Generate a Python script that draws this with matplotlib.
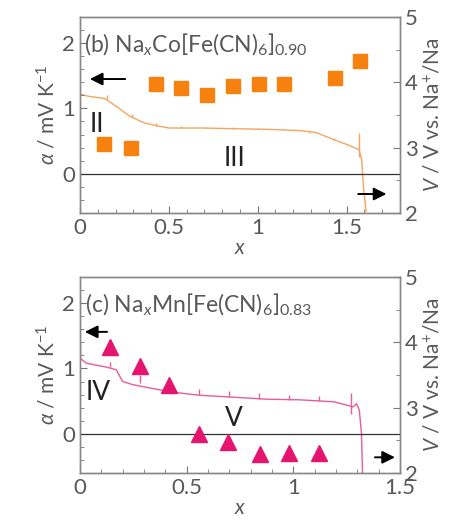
import numpy as np
import matplotlib
matplotlib.use("Agg")
from matplotlib import pyplot as plt
from matplotlib.ticker import MultipleLocator

plt.rcParams['font.family'] = ['Lato', 'DejaVu Sans']
plt.rcParams['mathtext.fontset'] = 'custom'
plt.rcParams['mathtext.rm'] = 'Lato'
plt.rcParams['mathtext.it'] = 'Lato:italic'

gray = "#595959"

# (b) Na_xCo[Fe(CN)6]0.90 : thermal coefficient (squares)
co_x = [0.137, 0.285, 0.426, 0.568, 0.716, 0.862, 1.007, 1.150, 1.434, 1.578]
co_alpha = [0.45, 0.39, 1.37, 1.32, 1.20, 1.34, 1.38, 1.38, 1.47, 1.73]
# discharge curve
co_vx = [0.0, 0.04, 0.14, 0.20, 0.28, 0.36, 0.44, 0.50, 0.69, 0.86, 1.05, 1.24,
         1.33, 1.43, 1.50, 1.57, 1.585, 1.595, 1.61]
co_v = [3.82, 3.79, 3.75, 3.64, 3.48, 3.38, 3.33, 3.30, 3.30, 3.29, 3.28, 3.26,
        3.23, 3.12, 3.05, 2.97, 2.82, 2.40, 2.02]
# relaxation spikes (x, low, high)
co_sx = [0.15, 0.29, 0.43, 0.57, 0.71, 0.86, 1.00, 1.14, 1.29, 1.43, 1.57]
co_slo = [3.75, 3.47, 3.33, 3.30, 3.30, 3.29, 3.28, 3.27, 3.22, 3.12, 2.86]
co_shi = [3.81, 3.52, 3.37, 3.33, 3.32, 3.31, 3.30, 3.29, 3.24, 3.15, 3.22]

# (c) Na_xMn[Fe(CN)6]0.83 : thermal coefficient (triangles)
mn_x = [0.141, 0.281, 0.419, 0.559, 0.695, 0.844, 0.981, 1.122]
mn_alpha = [1.33, 1.03, 0.74, 0.0, -0.12, -0.31, -0.30, -0.30]
mn_vx = [0.0, 0.03, 0.125, 0.17, 0.20, 0.25, 0.33, 0.41, 0.48, 0.56, 0.72, 0.875,
         1.03, 1.19, 1.25, 1.28, 1.297, 1.31, 1.32, 1.325]
mn_v = [3.76, 3.68, 3.62, 3.58, 3.40, 3.35, 3.30, 3.25, 3.22, 3.19, 3.16, 3.13,
        3.12, 3.09, 3.04, 3.01, 3.06, 2.96, 2.60, 2.00]
mn_sx = [0.0, 0.14, 0.28, 0.42, 0.56, 0.70, 0.84, 0.98, 1.12, 1.27]
mn_slo = [3.76, 3.62, 3.38, 3.26, 3.20, 3.16, 3.14, 3.12, 3.10, 2.90]
mn_shi = [3.96, 3.70, 3.50, 3.35, 3.28, 3.25, 3.22, 3.20, 3.18, 3.22]

panels = [
    dict(title=r"(b) Na$_{\mathit{x}}$Co[Fe(CN)$_6$]$_{0.90}$", x=co_x, a=co_alpha, marker="s",
         mc="#F7810F", lc="#F5A560", vx=co_vx, v=co_v, sx=co_sx, slo=co_slo, shi=co_shi,
         xmax=1.8, labels=[("II", 0.094, 0.75), ("III", 0.87, 0.24)],
         larrow=(0.27, 0.04, 1.45), rarrow=(1.55, 1.74, -0.31)),
    dict(title=r"(c) Na$_{\mathit{x}}$Mn[Fe(CN)$_6$]$_{0.83}$", x=mn_x, a=mn_alpha, marker="^",
         mc="#E5156F", lc="#E65C9C", vx=mn_vx, v=mn_v, sx=mn_sx, slo=mn_slo, shi=mn_shi,
         xmax=1.5, labels=[("IV", 0.086, 0.63), ("V", 0.72, 0.23)],
         larrow=(0.14, 0.01, 1.56), rarrow=(1.37, 1.49, -0.36)),
]

fig = plt.figure(figsize=(4.57, 5.23), dpi=100)
bottoms = [0.5928, 0.0956]

for p, b in zip(panels, bottoms):
    ax = fig.add_axes([0.175, b, 0.700, 0.3748])
    ax2 = ax.twinx()
    ax.set_zorder(2)
    ax.patch.set_visible(False)

    ax2.plot(p["vx"], p["v"], color=p["lc"], lw=1.0)
    ax2.vlines(p["sx"], p["slo"], p["shi"], color=p["lc"], lw=1.0)
    ax.axhline(0, color="#333333", lw=0.9)
    ms = 10 if p["marker"] == "s" else 11
    ax.plot(p["x"], p["a"], linestyle="none", marker=p["marker"], color=p["mc"], ms=ms, mec=p["mc"])

    for t, tx, ty in p["labels"]:
        ax.text(tx, ty, t, fontsize=19, color="#222222", ha="center", va="center")
    ax.text(0.025, 1.97, p["title"], fontsize=16.5, color=gray, ha="left", va="center")

    x0, x1, y = p["larrow"]
    ax.annotate("", xy=(x1, y), xytext=(x0, y),
                arrowprops=dict(arrowstyle="-|>", color="black", lw=1.4, mutation_scale=19))
    x0, x1, y = p["rarrow"]
    ax.annotate("", xy=(x1, y), xytext=(x0, y),
                arrowprops=dict(arrowstyle="-|>", color="black", lw=1.4, mutation_scale=19))

    ax.set_xlim(0, p["xmax"])
    ax.set_ylim(-0.6, 2.4)
    ax2.set_ylim(2, 5)
    ax.xaxis.set_major_locator(MultipleLocator(0.5))
    ax.xaxis.set_minor_locator(MultipleLocator(0.1))
    ax.yaxis.set_major_locator(MultipleLocator(1))
    ax.yaxis.set_minor_locator(MultipleLocator(0.2))
    ax2.yaxis.set_major_locator(MultipleLocator(1))
    ax2.yaxis.set_minor_locator(MultipleLocator(0.5))
    ax.set_xticks([0, 0.5, 1, 1.5])
    ax.set_xticklabels(["0", "0.5", "1", "1.5"])

    for a_ in (ax, ax2):
        a_.tick_params(which="both", direction="in", colors="#777777", labelcolor=gray,
                       labelsize=16, top=False)
        a_.tick_params(which="major", length=5)
        a_.tick_params(which="minor", length=3)
        for s in a_.spines.values():
            s.set_color("#888888")
            s.set_linewidth(1.0)

    ax.set_xlabel(r"$\mathit{x}$", fontsize=15, color=gray, labelpad=0)
    ax.set_ylabel(r"$\alpha$ / mV K$^{-1}$", fontsize=15, color=gray, labelpad=2)
    ax2.set_ylabel(r"$\mathit{V}$ / V vs. Na$^{+}$/Na", fontsize=15, color=gray, labelpad=4)

fig.savefig("out.png", dpi=100)
